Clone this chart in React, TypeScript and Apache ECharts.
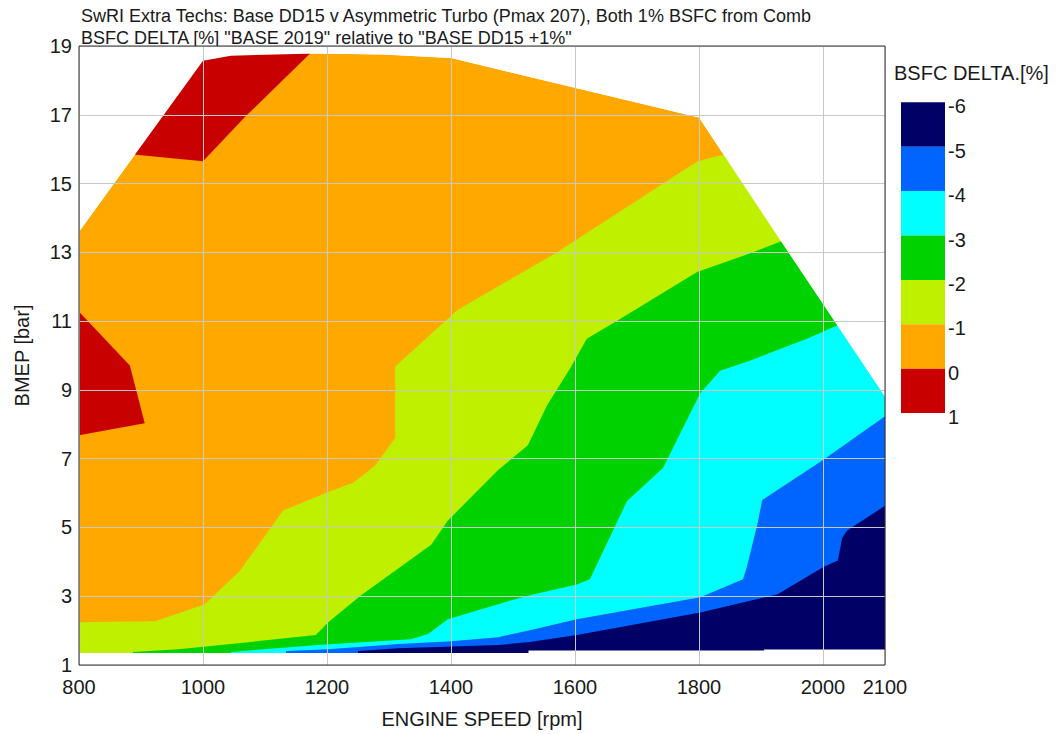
import React, { useEffect, useRef } from "react";
import * as echarts from "echarts";

const FONT = "'Liberation Sans', Arial, sans-serif";

const titleLines = [
  "SwRI Extra Techs: Base DD15 v Asymmetric Turbo (Pmax 207), Both 1% BSFC from Comb",
  "BSFC DELTA [%] \"BASE 2019\" relative to \"BASE DD15 +1%\"",
];
const xAxisName = "ENGINE SPEED [rpm]";
const yAxisName = "BMEP [bar]";
const legendTitle = "BSFC DELTA.[%]";
const legendLevels = ["-6", "-5", "-4", "-3", "-2", "-1", "0", "1"];
// band colours from (-6..-5) down to (0..1)
const bandColors = ["#000066", "#0064ff", "#00ffff", "#00d200", "#bef000", "#ffa800", "#c80000"];

// operating envelope [rpm, bmep]
const envelopeTop: number[][] = [
  [800, 13.6], [1000, 18.57], [1045, 18.72], [1183, 18.78], [1290, 18.75],
  [1400, 18.65], [1800, 16.92], [1930, 13.38], [2100, 8.8],
];
const envelopeBottom: number[][] = [
  [800, 1.35], [1525, 1.35], [1525, 1.42], [1905, 1.42], [1905, 1.45], [2100, 1.45],
];

// contour lines (boundary between bands), region to the lower right is below the level
const contourM1: number[][] = [
  [800, 2.24], [923, 2.27], [1003, 2.77], [1060, 3.75], [1129, 5.49], [1202, 6.03],
  [1242, 6.3], [1277, 6.79], [1310, 7.6], [1310, 9.68], [1411, 11.33], [1571, 13.0],
  [1797, 15.64], [1839, 15.84], [1870, 16.1],
];
const contourM2: number[][] = [
  [887, 1.38], [960, 1.46], [1077, 1.67], [1182, 1.87], [1202, 2.24], [1255, 3.03],
  [1368, 4.5], [1395, 5.2], [1476, 6.67], [1524, 7.39], [1555, 8.55], [1592, 9.62],
  [1619, 10.49], [1668, 11.01], [1797, 12.43], [1887, 13.0], [1934, 13.33], [1960, 13.5],
];
const contourM3: number[][] = [
  [1045, 1.38], [1185, 1.58], [1335, 1.75], [1363, 1.9], [1395, 2.33], [1476, 2.77],
  [1527, 3.03], [1603, 3.34], [1624, 3.49], [1684, 5.77], [1742, 6.73], [1774, 7.89],
  [1802, 8.9], [1834, 9.56], [1882, 9.85], [1974, 10.49], [2000, 10.69], [2019, 10.84],
  [2060, 11.1],
];
const contourM4: number[][] = [
  [1134, 1.41], [1202, 1.46], [1250, 1.52], [1315, 1.61], [1400, 1.69], [1476, 1.81],
  [1527, 2.01], [1603, 2.33], [1802, 2.97], [1871, 3.49], [1877, 3.84], [1894, 5.08],
  [1902, 5.8], [2000, 6.96], [2100, 8.23],
];
const contourM5: number[][] = [
  [1250, 1.41], [1315, 1.49], [1476, 1.58], [1527, 1.67], [1603, 1.87], [1802, 2.53],
  [1926, 3.05], [2000, 3.84], [2024, 4.04], [2031, 4.7], [2039, 4.91], [2100, 5.63],
];
// islands above 0 %
const redTop: number[][] = [[880, 15.86], [1000, 15.65], [1068, 16.94], [1185, 19], [850, 19]];
const redLeft: number[][] = [[800, 11.27], [882, 9.71], [906, 8.03], [800, 7.68]];

const X_MIN = 800, X_MAX = 2100, Y_MIN = 1, Y_MAX = 19;

function below(c: number[][]): number[][] {
  const first = c[0];
  const last = c[c.length - 1];
  return [[first[0], Y_MIN], ...c, [X_MAX, last[1]], [X_MAX, Y_MIN]];
}

export default function App() {
  const ref = useRef<HTMLDivElement>(null);
  useEffect(() => {
    if (!ref.current) return;
    const chart = echarts.init(ref.current, undefined, { renderer: "svg" });

    const envelope = [...envelopeBottom, ...envelopeTop.slice().reverse()];
    const maskTop = [...envelopeTop, [X_MAX, Y_MAX], [X_MIN, Y_MAX]];
    const maskBottom = [...envelopeBottom, [X_MAX, Y_MIN], [X_MIN, Y_MIN]];

    const shapes = [
      { pts: envelope, color: bandColors[5] },
      { pts: below(contourM1), color: bandColors[4] },
      { pts: below(contourM2), color: bandColors[3] },
      { pts: below(contourM3), color: bandColors[2] },
      { pts: below(contourM4), color: bandColors[1] },
      { pts: below(contourM5), color: bandColors[0] },
      { pts: redTop, color: bandColors[6] },
      { pts: redLeft, color: bandColors[6] },
      { pts: maskTop, color: "#ffffff" },
      { pts: maskBottom, color: "#ffffff" },
    ];

    const textColor = "#1a1a1a";
    const boxTop = 102.3;
    const boxH = 44.4;

    const graphic: any[] = [
      { type: "text", x: 81, y: 16, style: { text: titleLines[0], fontSize: 18, fontFamily: FONT, fill: textColor, verticalAlign: "middle" } },
      { type: "text", x: 81, y: 37.5, style: { text: titleLines[1], fontSize: 18, fontFamily: FONT, fill: textColor, verticalAlign: "middle" } },
      { type: "text", x: 894, y: 72.5, style: { text: legendTitle, fontSize: 20, fontFamily: FONT, fill: textColor, verticalAlign: "middle" } },
    ];
    bandColors.forEach((c, i) => {
      graphic.push({ type: "rect", shape: { x: 901, y: boxTop + i * boxH, width: 44, height: boxH }, style: { fill: c } });
    });
    legendLevels.forEach((l, i) => {
      graphic.push({ type: "text", x: 948, y: boxTop + i * boxH + 4, style: { text: l, fontSize: 20, fontFamily: FONT, fill: textColor, verticalAlign: "middle" } });
    });

    chart.setOption({
      animation: false,
      grid: { left: 79, right: 175, top: 46, bottom: 66, show: true, borderColor: "#333", borderWidth: 1, backgroundColor: "transparent", z: 11 },
      xAxis: {
        type: "value", min: X_MIN, max: X_MAX, interval: 200, z: 10,
        axisLine: { show: false }, axisTick: { show: false },
        splitLine: { show: true, lineStyle: { color: "#c8c8c8", width: 1 } },
        axisLabel: { fontSize: 20, fontFamily: FONT, color: textColor, margin: 12, formatter: (v: number) => String(v) },
        name: xAxisName, nameLocation: "middle", nameGap: 44,
        nameTextStyle: { fontSize: 20, fontFamily: FONT, color: textColor },
      },
      yAxis: {
        type: "value", min: Y_MIN, max: Y_MAX, interval: 2, z: 10,
        axisLine: { show: false }, axisTick: { show: false },
        splitLine: { show: true, lineStyle: { color: "#c8c8c8", width: 1 } },
        axisLabel: { fontSize: 20, fontFamily: FONT, color: textColor, margin: 7, formatter: (v: number) => String(v) },
        name: yAxisName, nameLocation: "middle", nameGap: 47,
        nameTextStyle: { fontSize: 20, fontFamily: FONT, color: textColor },
      },
      series: [
        {
          type: "custom",
          silent: true,
          z: 2,
          data: shapes.map((s, i) => [s.pts[0][0], s.pts[0][1], i]),
          renderItem: (params: any, api: any) => {
            const s = shapes[params.dataIndex];
            return {
              type: "polygon",
              shape: { points: s.pts.map((p) => api.coord(p)) },
              style: { fill: s.color, stroke: null },
            };
          },
        },
      ],
      graphic,
    });
    return () => chart.dispose();
  }, []);
  return <div ref={ref} style={{ position: "fixed", left: 0, top: 0, width: 1060, height: 734, background: "#fff" }} />;
}
